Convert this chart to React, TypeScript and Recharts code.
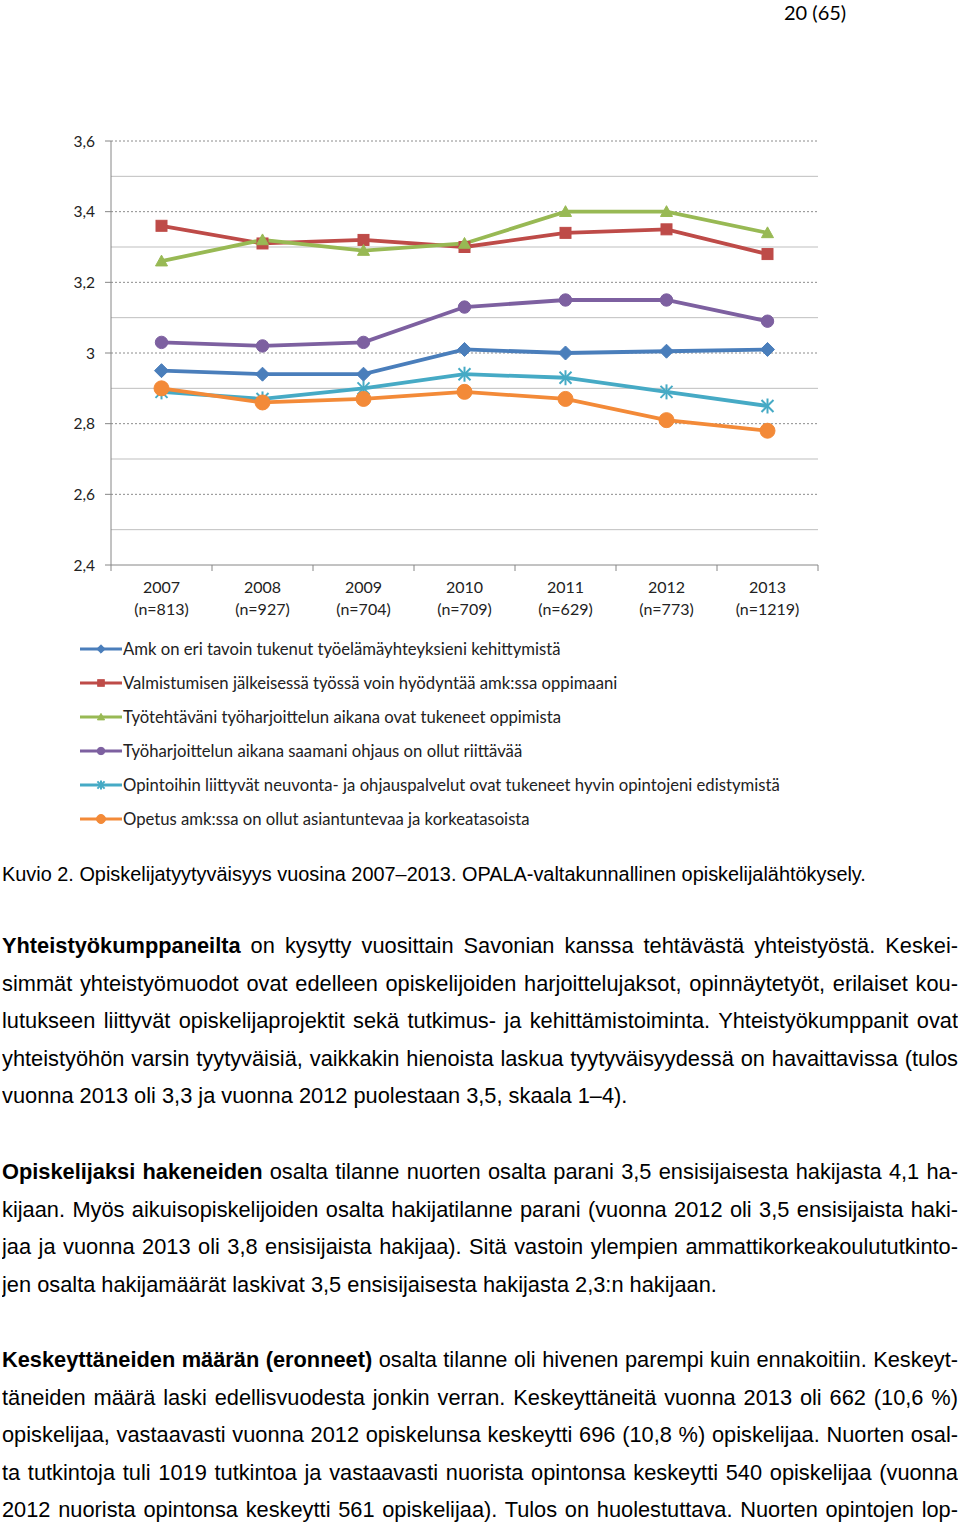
import React from 'react';
import { LineChart, Line, XAxis, YAxis, ReferenceLine } from 'recharts';

const years = ['2007', '2008', '2009', '2010', '2011', '2012', '2013'];
const nCounts = ['(n=813)', '(n=927)', '(n=704)', '(n=709)', '(n=629)', '(n=773)', '(n=1219)'];

const amk = [2.95, 2.94, 2.94, 3.01, 3.0, 3.005, 3.01];
const valmistumisen = [3.36, 3.31, 3.32, 3.3, 3.34, 3.35, 3.28];
const tyotehtavani = [3.26, 3.32, 3.29, 3.31, 3.4, 3.4, 3.34];
const ohjaus = [3.03, 3.02, 3.03, 3.13, 3.15, 3.15, 3.09];
const neuvonta = [2.89, 2.87, 2.9, 2.94, 2.93, 2.89, 2.85];
const opetus = [2.9, 2.86, 2.87, 2.89, 2.87, 2.81, 2.78];

const yTicks = [2.4, 2.6, 2.8, 3.0, 3.2, 3.4, 3.6];
const majorGrid = [2.6, 2.8, 3.0, 3.2, 3.4, 3.6];
const minorGrid = [2.5, 2.7, 2.9, 3.1, 3.3, 3.5];

const seriesNames = [
  'Amk on eri tavoin tukenut työelämäyhteyksieni kehittymistä',
  'Valmistumisen jälkeisessä työssä voin hyödyntää amk:ssa oppimaani',
  'Työtehtäväni työharjoittelun aikana ovat tukeneet oppimista',
  'Työharjoittelun aikana saamani ohjaus on ollut riittävää',
  'Opintoihin liittyvät neuvonta- ja ohjauspalvelut ovat tukeneet hyvin opintojeni edistymistä',
  'Opetus amk:ssa on ollut asiantuntevaa ja korkeatasoista',
];
const seriesKeys = ['amk', 'valm', 'tyot', 'ohj', 'neuv', 'opet'];
const seriesColors = ['#4A7EBB', '#BE4B48', '#98B954', '#7D60A0', '#46AAC5', '#F38A38'];
const seriesShapes = ['diamond', 'square', 'triangle', 'circle', 'star', 'bigcircle'];
const seriesValues = [amk, valmistumisen, tyotehtavani, ohjaus, neuvonta, opetus];

const data = years.map((y, i) => {
  const row: any = { year: y, n: nCounts[i] };
  seriesKeys.forEach((k, s) => {
    row[k] = seriesValues[s][i];
  });
  return row;
});

const CHART_W = 840;
const CHART_H = 640;
const M_LEFT = 0;
const Y_W = 111;
const M_RIGHT = 22;
const BAND = (CHART_W - Y_W - M_LEFT - M_RIGHT) / years.length;

const FONT = 'Lato, "Open Sans", sans-serif';
const TEXT_COLOR = '#222';

function marker(shape: string, color: string, cx: number, cy: number, scale: number, key?: any) {
  if (cx == null || cy == null) return <g key={key} />;
  switch (shape) {
    case 'diamond': {
      const r = 7 * scale;
      return (
        <path key={key} d={`M${cx},${cy - r} L${cx + r},${cy} L${cx},${cy + r} L${cx - r},${cy} Z`} fill={color} stroke={color} strokeWidth={1} />
      );
    }
    case 'square': {
      const h = 5.5 * scale;
      return <rect key={key} x={cx - h} y={cy - h} width={2 * h} height={2 * h} fill={color} stroke={color} strokeWidth={1} />;
    }
    case 'triangle': {
      const h = 6 * scale;
      return (
        <path key={key} d={`M${cx},${cy - h} L${cx + h},${cy + h * 0.8} L${cx - h},${cy + h * 0.8} Z`} fill={color} stroke={color} strokeWidth={1} />
      );
    }
    case 'circle':
      return <circle key={key} cx={cx} cy={cy} r={6.2 * scale} fill={color} stroke={color} strokeWidth={1} />;
    case 'bigcircle':
      return <circle key={key} cx={cx} cy={cy} r={7.5 * scale} fill={color} stroke={color} strokeWidth={1} />;
    case 'star': {
      const r = 7.5 * scale;
      const d = r * 0.8;
      return (
        <g key={key} stroke={color} strokeWidth={2}>
          <line x1={cx - d} y1={cy - d} x2={cx + d} y2={cy + d} />
          <line x1={cx - d} y1={cy + d} x2={cx + d} y2={cy - d} />
          <line x1={cx} y1={cy - r} x2={cx} y2={cy + r} />
        </g>
      );
    }
    default:
      return <g key={key} />;
  }
}

const makeDot = (shape: string, color: string) => (props: any) =>
  marker(shape, color, props.cx, props.cy, 1, props.key ?? `${shape}-${props.index}`);

const XTick = (props: any) => {
  const { x, y, payload, index } = props;
  const i = index ?? years.indexOf(payload.value);
  return (
    <g>
      <line x1={x - BAND / 2} y1={y} x2={x - BAND / 2} y2={y + 6} stroke="#868686" strokeWidth={1} />
      {i === years.length - 1 && <line x1={x + BAND / 2} y1={y} x2={x + BAND / 2} y2={y + 6} stroke="#868686" strokeWidth={1} />}
      <text x={x} y={y + 28} textAnchor="middle" fontFamily={FONT} fontSize={16} fill={TEXT_COLOR}>
        {payload.value}
      </text>
      <text x={x} y={y + 50} textAnchor="middle" fontFamily={FONT} fontSize={16} fill={TEXT_COLOR}>
        {nCounts[i]}
      </text>
    </g>
  );
};

const para1 = [
  { b: 'Yhteistyökumppaneilta', t: ' on kysytty vuosittain Savonian kanssa tehtävästä yhteistyöstä. Keskei-', j: true },
  { t: 'simmät yhteistyömuodot ovat edelleen opiskelijoiden harjoittelujaksot, opinnäytetyöt, erilaiset kou-', j: true },
  { t: 'lutukseen liittyvät opiskelijaprojektit sekä tutkimus- ja kehittämistoiminta. Yhteistyökumppanit ovat', j: true },
  { t: 'yhteistyöhön varsin tyytyväisiä, vaikkakin hienoista laskua tyytyväisyydessä on havaittavissa (tulos', j: true },
  { t: 'vuonna 2013 oli 3,3 ja vuonna 2012 puolestaan 3,5, skaala 1–4).', j: false },
];
const para2 = [
  { b: 'Opiskelijaksi hakeneiden', t: ' osalta tilanne nuorten osalta parani 3,5 ensisijaisesta hakijasta 4,1 ha-', j: true },
  { t: 'kijaan. Myös aikuisopiskelijoiden osalta hakijatilanne parani (vuonna 2012 oli 3,5 ensisijaista haki-', j: true },
  { t: 'jaa ja vuonna 2013 oli 3,8 ensisijaista hakijaa). Sitä vastoin ylempien ammattikorkeakoulututkinto-', j: true },
  { t: 'jen osalta hakijamäärät laskivat 3,5 ensisijaisesta hakijasta 2,3:n hakijaan.', j: false },
];
const para3 = [
  { b: 'Keskeyttäneiden määrän (eronneet)', t: ' osalta tilanne oli hivenen parempi kuin ennakoitiin. Keskeyt-', j: true },
  { t: 'täneiden määrä laski edellisvuodesta jonkin verran. Keskeyttäneitä vuonna 2013 oli 662 (10,6 %)', j: true },
  { t: 'opiskelijaa, vastaavasti vuonna 2012 opiskelunsa keskeytti 696 (10,8 %) opiskelijaa. Nuorten osal-', j: true },
  { t: 'ta tutkintoja tuli 1019 tutkintoa ja vastaavasti nuorista opintonsa keskeytti 540 opiskelijaa (vuonna', j: true },
  { t: '2012 nuorista opintonsa keskeytti 561 opiskelijaa). Tulos on huolestuttava. Nuorten opintojen lop-', j: true },
];

const BODY_FONT = '"Liberation Sans", Arial, sans-serif';
const BODY_SIZE = 21.8;

const TextLines = ({ lines, startY }: { lines: any[]; startY: number }) => (
  <>
    {lines.map((ln, i) => (
      <div
        key={i}
        style={{
          position: 'absolute',
          left: 2,
          top: startY + i * 37.6 - 15,
          width: 956,
          height: 30,
          lineHeight: '30px',
          fontFamily: BODY_FONT,
          fontSize: BODY_SIZE,
          color: '#000',
          textAlign: ln.j ? 'justify' : 'left',
          textAlignLast: ln.j ? 'justify' : 'left',
          whiteSpace: 'normal',
          overflow: 'hidden',
        } as any}
      >
        {ln.b && <b>{ln.b}</b>}
        {ln.t}
      </div>
    ))}
  </>
);

export default function App() {
  return (
    <div style={{ position: 'absolute', left: 0, top: 0, width: 960, height: 1524, background: '#fff', overflow: 'hidden' }}>
      <div
        style={{
          position: 'absolute',
          left: 784,
          top: 0,
          fontFamily: FONT,
          fontSize: 20,
          lineHeight: '24px',
          color: '#000',
          whiteSpace: 'nowrap',
        }}
      >
        20 (65)
      </div>

      <div style={{ position: 'absolute', left: 0, top: 0 }}>
        <LineChart
          width={CHART_W}
          height={CHART_H}
          data={data}
          margin={{ top: 141, right: M_RIGHT, bottom: 15, left: M_LEFT }}
        >
          {minorGrid.map((v) => (
            <ReferenceLine key={`mi${v}`} y={v} stroke="#BFBFBF" strokeWidth={1} ifOverflow="visible" />
          ))}
          {majorGrid.map((v) => (
            <ReferenceLine key={`ma${v}`} y={v} stroke="#8C8C8C" strokeWidth={1} strokeDasharray="2 2" ifOverflow="visible" />
          ))}
          <XAxis
            dataKey="year"
            height={60}
            padding={{ left: BAND / 2, right: BAND / 2 }}
            axisLine={{ stroke: '#868686', strokeWidth: 1 }}
            tickLine={false}
            tickSize={0}
            tickMargin={0}
            interval={0}
            tick={<XTick />}
          />
          <YAxis
            width={Y_W}
            domain={[2.4, 3.6]}
            ticks={yTicks}
            type="number"
            allowDataOverflow
            axisLine={{ stroke: '#868686', strokeWidth: 1 }}
            tickLine={{ stroke: '#868686', strokeWidth: 1 }}
            tickSize={6}
            tickMargin={10}
            tick={{ fontFamily: FONT, fontSize: 15.5, fill: TEXT_COLOR }}
            tickFormatter={(v: number) => (Math.round(v * 10) / 10).toString().replace('.', ',')}
          />
          {seriesKeys.map((k, s) => (
            <Line
              key={k}
              dataKey={k}
              name={seriesNames[s]}
              type="linear"
              stroke={seriesColors[s]}
              strokeWidth={3.8}
              dot={makeDot(seriesShapes[s], seriesColors[s])}
              activeDot={false}
              isAnimationActive={false}
            />
          ))}
        </LineChart>
      </div>

      {seriesNames.map((name, s) => (
        <div
          key={name}
          style={{
            position: 'absolute',
            left: 80,
            top: 649 + s * 34 - 13,
            height: 26,
            display: 'flex',
            alignItems: 'center',
            whiteSpace: 'nowrap',
          }}
        >
          <svg width={43} height={26} style={{ display: 'block' }}>
            <line x1={0} y1={13} x2={42} y2={13} stroke={seriesColors[s]} strokeWidth={3} />
            {marker(seriesShapes[s], seriesColors[s], 21, 13, 0.6)}
          </svg>
          <span style={{ fontFamily: FONT, fontSize: 16.7, color: TEXT_COLOR, lineHeight: '26px' }}>{name}</span>
        </div>
      ))}

      <div
        style={{
          position: 'absolute',
          left: 2,
          top: 874 - 13,
          height: 26,
          lineHeight: '26px',
          fontFamily: BODY_FONT,
          fontSize: 19.9,
          color: '#000',
          whiteSpace: 'nowrap',
        }}
      >
        Kuvio 2. Opiskelijatyytyväisyys vuosina 2007–2013. OPALA-valtakunnallinen opiskelijalähtökysely.
      </div>

      <TextLines lines={para1} startY={946} />
      <TextLines lines={para2} startY={1172} />
      <TextLines lines={para3} startY={1360} />
    </div>
  );
}
